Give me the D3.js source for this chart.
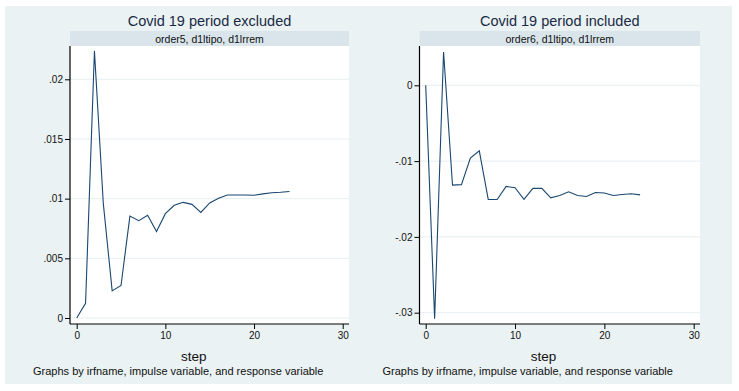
<!DOCTYPE html>
<html>
  <head>
    <meta charset="utf-8">
    <title>IRF order5 vs order6</title>
    <script src="https://cdn.jsdelivr.net/npm/d3@7"></script>
    <style>
      body { margin: 0; background: #fff; }
      svg { display: block; font-family: "Liberation Sans", Arial, sans-serif; }
      .tick text { fill: #111; }
    </style>
  </head>

  <body>
    <svg id="chart" width="739" height="391"></svg>

    <script>
      // data
      steps = d3.range(0, 25);
      excluded = [0, 0.00123, 0.02238, 0.0096, 0.00227, 0.00272, 0.00854, 0.00815, 0.0086, 0.00725,
        0.00874, 0.00944, 0.00969, 0.00952, 0.00885, 0.00964, 0.01003, 0.01031, 0.0103, 0.0103,
        0.01028, 0.0104, 0.0105, 0.01053, 0.0106];
      included = [0, -0.0308, 0.00440, -0.01317, -0.0131, -0.0096, -0.00864, -0.01506, -0.01506, -0.01334,
        -0.01352, -0.01506, -0.0136, -0.0136, -0.01485, -0.01453, -0.01405, -0.01453, -0.01467, -0.01414,
        -0.0142, -0.01453, -0.0144, -0.0143, -0.01445];
      titles = ["Covid 19 period excluded", "Covid 19 period included"];
      strips = ["order5, d1ltipo, d1lrrem", "order6, d1ltipo, d1lrrem"];
      xTicks = [0, 10, 20, 30];
      yTicksLeft = [0, 0.005, 0.01, 0.015, 0.02];
      yTicksRight = [0, -0.01, -0.02, -0.03];
      yLabelsLeft = ["0", ".005", ".01", ".015", ".02"];
      yLabelsRight = ["0", "-.01", "-.02", "-.03"];
      note = "Graphs by irfname, impulse variable, and response variable";

      svg = d3.select("#chart");

      // background
      svg.append("rect")
        .attr("x", 5).attr("y", 6)
        .attr("width", 727).attr("height", 378)
        .attr("fill", "#eaf2f3");

      panels = [
        { title: titles[0], strip: strips[0], values: excluded, ticks: yTicksLeft, labels: yLabelsLeft,
          left: 70, right: 349, xr: [76.7, 342.7], yd: [0, 0.02], yr: [318, 79.3] },
        { title: titles[1], strip: strips[1], values: included, ticks: yTicksRight, labels: yLabelsRight,
          left: 419.5, right: 700, xr: [425.7, 693.7], yd: [-0.03, 0], yr: [312.7, 85.3] }
      ];

      plotTop = 46;
      plotBottom = 324;

      panels.forEach(function(p) {
        let g = svg.append("g");

        let x = d3.scaleLinear().domain([0, 30]).range(p.xr);
        let y = d3.scaleLinear().domain(p.yd).range(p.yr);

        // plot region
        g.append("rect")
          .attr("x", p.left).attr("y", plotTop)
          .attr("width", p.right - p.left).attr("height", plotBottom - plotTop)
          .attr("fill", "#fff");

        // strip
        g.append("rect")
          .attr("x", p.left).attr("y", 31)
          .attr("width", p.right - p.left).attr("height", 15)
          .attr("fill", "#d9e5eb");
        g.append("text")
          .attr("x", (p.left + p.right) / 2).attr("y", 42.5)
          .attr("text-anchor", "middle")
          .style("font-size", "10.5px")
          .attr("fill", "#111")
          .text(p.strip);

        // title
        g.append("text")
          .attr("x", (p.left + p.right) / 2).attr("y", 25.5)
          .attr("text-anchor", "middle")
          .style("font-size", "14.5px")
          .attr("fill", "#1a2a44")
          .text(p.title);

        // grid
        g.selectAll(".grid")
          .data(p.ticks)
        .enter().append("line")
          .attr("x1", p.left).attr("x2", p.right)
          .attr("y1", function(d) { return y(d); })
          .attr("y2", function(d) { return y(d); })
          .attr("stroke", "#e6eff1")
          .attr("stroke-width", 1);

        // y axis
        let yAxis = d3.axisLeft(y)
          .tickValues(p.ticks)
          .tickSize(5)
          .tickPadding(2)
          .tickFormat(function(d, i) { return p.labels[i]; });
        g.append("g")
          .attr("transform", "translate(" + p.left + ",0)")
          .call(yAxis)
          .call(function(a) {
            a.select(".domain").remove();
            a.selectAll("text").style("font-size", "10px").attr("font-family", null);
          });
        g.append("line")
          .attr("x1", p.left).attr("x2", p.left)
          .attr("y1", plotTop).attr("y2", plotBottom)
          .attr("stroke", "#000").attr("stroke-width", 1.2);

        // x axis
        let xAxis = d3.axisBottom(x)
          .tickValues(xTicks)
          .tickSize(5)
          .tickPadding(3);
        g.append("g")
          .attr("transform", "translate(0," + plotBottom + ")")
          .call(xAxis)
          .call(function(a) {
            a.select(".domain").remove();
            a.selectAll("text").style("font-size", "10px").attr("font-family", null);
          });
        g.append("line")
          .attr("x1", p.left).attr("x2", p.right)
          .attr("y1", plotBottom).attr("y2", plotBottom)
          .attr("stroke", "#000").attr("stroke-width", 1.2);

        // x title
        g.append("text")
          .attr("x", x(13.2)).attr("y", 361)
          .attr("text-anchor", "middle")
          .style("font-size", "13.5px")
          .attr("fill", "#111")
          .text("step");

        // note
        g.append("text")
          .attr("x", p.left - 37).attr("y", 375)
          .style("font-size", "11px")
          .attr("fill", "#111")
          .text(note);

        // line
        let line = d3.line()
          .x(function(d, i) { return x(steps[i]); })
          .y(function(d) { return y(d); });
        g.append("path")
          .datum(p.values)
          .attr("d", line)
          .attr("fill", "none")
          .attr("stroke", "#1a476f")
          .attr("stroke-width", 1.1);
      });
    </script>
  </body>
</html>
